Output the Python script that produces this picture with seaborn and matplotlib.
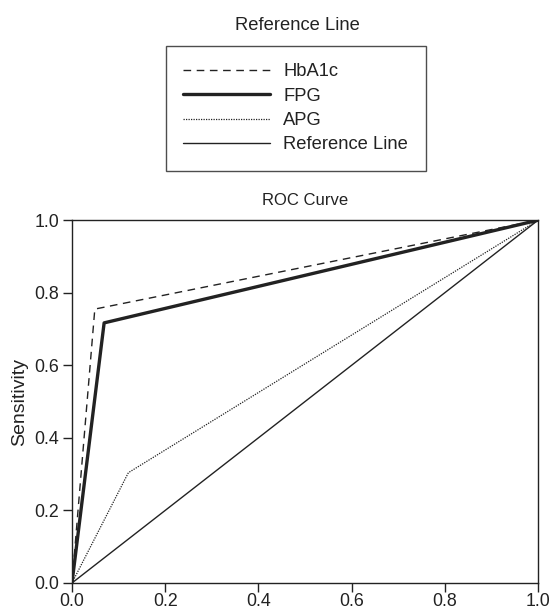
import matplotlib
matplotlib.use("Agg")
import matplotlib.pyplot as plt
import seaborn as sns

# Data
hba1c_x = [0.0, 0.049, 1.0]
hba1c_y = [0.0, 0.755, 1.0]
fpg_x = [0.0, 0.069, 1.0]
fpg_y = [0.0, 0.717, 1.0]
apg_x = [0.0, 0.121, 1.0]
apg_y = [0.0, 0.304, 1.0]
ref_x = [0.0, 1.0]
ref_y = [0.0, 1.0]
ticks = [0.0, 0.2, 0.4, 0.6, 0.8, 1.0]
tick_labels = ["0.0", "0.2", "0.4", "0.6", "0.8", "1.0"]

sns.set_theme(style="white")
plt.rcParams['font.family'] = ['Liberation Sans', 'DejaVu Sans']

fig = plt.figure(figsize=(5.52, 6.10), dpi=100)
ax = fig.add_axes([0.1304, 0.0443, 0.8442, 0.5947])

col = "#222222"
sns.lineplot(x=hba1c_x, y=hba1c_y, ax=ax, sort=False, color=col, lw=1.0,
             label="HbA1c", estimator=None)
sns.lineplot(x=fpg_x, y=fpg_y, ax=ax, sort=False, color=col, lw=2.4,
             label="FPG", estimator=None)
sns.lineplot(x=apg_x, y=apg_y, ax=ax, sort=False, color=col, lw=0.9,
             label="APG", estimator=None)
sns.lineplot(x=ref_x, y=ref_y, ax=ax, sort=False, color=col, lw=1.0,
             label="Reference Line", estimator=None)
lines = ax.get_lines()
lines[0].set_linestyle((0, (5.5, 4)))
lines[2].set_linestyle((0, (1, 1)))

ax.set_xlim(0, 1)
ax.set_ylim(0, 1)
ax.set_xticks(ticks)
ax.set_xticklabels(tick_labels)
ax.set_yticks(ticks)
ax.set_yticklabels(tick_labels)
ax.tick_params(axis='both', which='both', direction='out', length=6.5, width=1,
               color=col, labelsize=12.8, labelcolor=col, pad=2.5,
               bottom=True, left=True, top=False, right=False)
ax.tick_params(axis='x', pad=1.0)
for s in ax.spines.values():
    s.set_color(col)
    s.set_linewidth(1.0)
ax.set_ylabel("Sensitivity", fontsize=14, color=col, labelpad=5)
ax.set_xlabel("")
ax.set_title("ROC Curve", fontsize=12, color=col, pad=11)

handles, labels = ax.get_legend_handles_labels()
ax.get_legend().remove()
leg = fig.legend(handles, labels, loc='upper left',
                 bbox_to_anchor=(0.3007, 0.9246), borderaxespad=0,
                 frameon=True, fancybox=False, shadow=False,
                 fontsize=13.2, handlelength=4.75, handletextpad=0.7,
                 borderpad=0.95, labelspacing=0.4, labelcolor=col)
fr = leg.get_frame()
fr.set_edgecolor(col)
fr.set_linewidth(1.0)
fig.text(0.538, 1 - 25/610, "Reference Line", ha='center', va='center',
         fontsize=13.2, color=col)

fig.savefig("out.png", dpi=100)
